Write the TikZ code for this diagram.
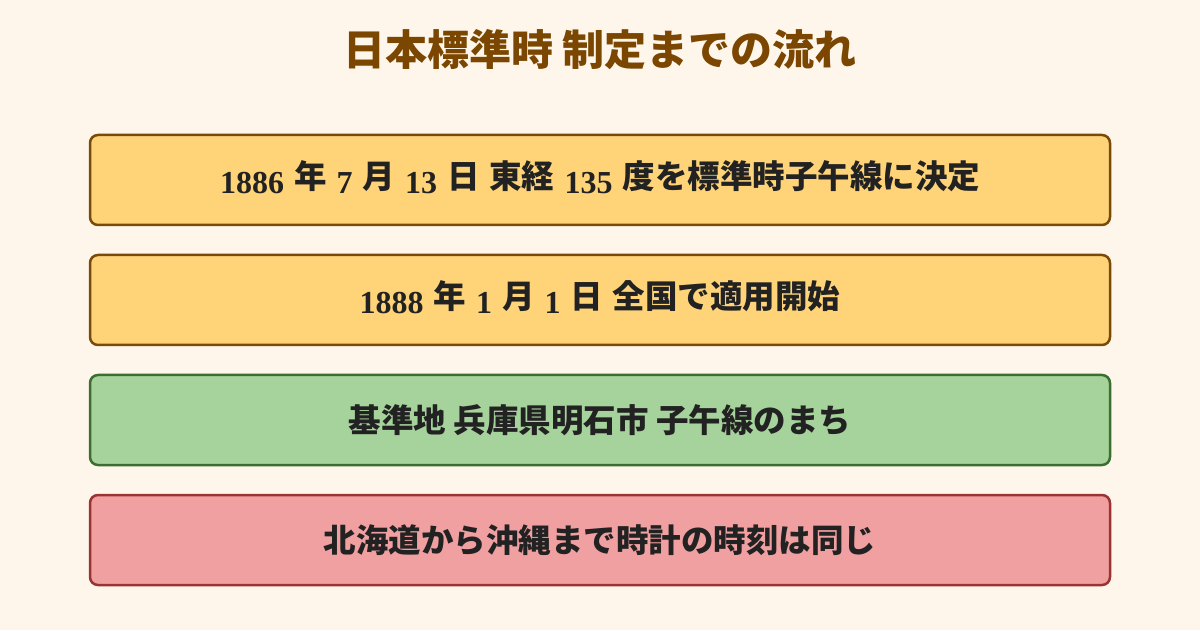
\documentclass[tikz,border=0pt]{standalone}
\usepackage{fontspec}
\setmainfont{Noto Sans CJK JP}
\newfontfamily\numfont{Liberation Serif}
\definecolor{bgc}{HTML}{FFF6EB}
\definecolor{titlec}{HTML}{7A4600}
\definecolor{txtc}{HTML}{222222}
\definecolor{yfill}{HTML}{FFD479}
\definecolor{ydraw}{HTML}{7A4A08}
\definecolor{gfill}{HTML}{A5D39B}
\definecolor{gdraw}{HTML}{3B6E30}
\definecolor{rfill}{HTML}{F0A0A0}
\definecolor{rdraw}{HTML}{9A3434}
\newcommand{\nm}[1]{{\numfont\bfseries\fontsize{32}{32}\selectfont\raisebox{-5pt}{#1}}}
\newcommand{\gp}{\hspace{10pt}}
\tikzset{
  card/.style={rounded corners=8pt, line width=2.5pt, minimum width=1020pt, minimum height=90pt,
    inner sep=0pt, text=txtc, font=\bfseries\fontsize{32.5}{32.5}\selectfont},
  ycard/.style={card, fill=yfill, draw=ydraw},
  gcard/.style={card, fill=gfill, draw=gdraw},
  rcard/.style={card, fill=rfill, draw=rdraw},
}
\begin{document}
\begin{tikzpicture}[x=1pt,y=1pt]
\useasboundingbox (0,0) rectangle (1200,630);
\fill[bgc] (0,0) rectangle (1200,630);
\node[text=titlec, font=\bfseries\fontsize{42}{42}\selectfont] (title) at (600,580) {日本標準時 制定までの流れ};
\node[ycard, text height=26pt, text depth=8pt] (b1) at (600,450) {\nm{1886}\gp 年\gp\nm{7}\gp 月\gp\nm{13}\gp 日\gp 東経\gp\nm{135}\gp 度を標準時子午線に決定};
\node[ycard, text height=26pt, text depth=8pt] (b2) at (600,330) {\nm{1888}\gp 年\gp\nm{1}\gp 月\gp\nm{1}\gp 日\gp 全国で適用開始};
\node[gcard] (b3) at (600,210) {基準地 兵庫県明石市 子午線のまち};
\node[rcard] (b4) at (600,90) {北海道から沖縄まで時計の時刻は同じ};
\end{tikzpicture}
\end{document}
